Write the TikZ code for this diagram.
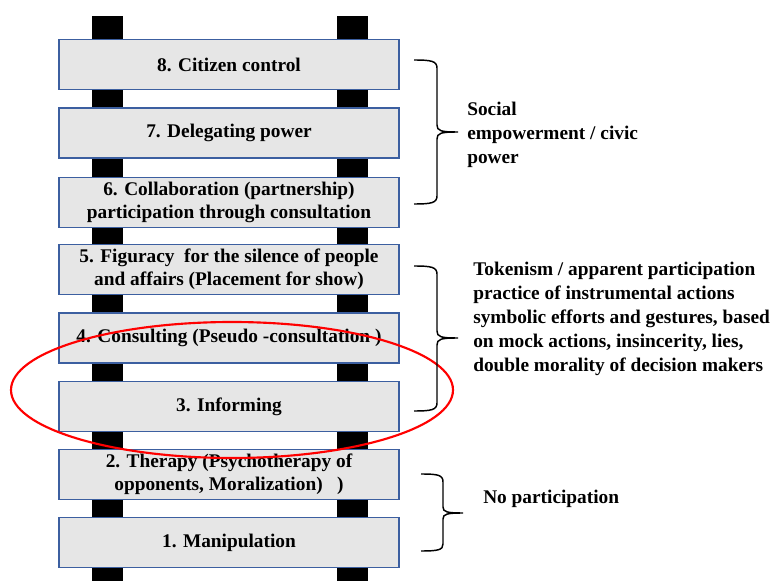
\documentclass[tikz,border=0pt]{standalone}
\usepackage{fontspec}
\setmainfont{Liberation Serif}[BoldFont={Liberation Serif Bold}]
\newfontfamily\ladderfont{Liberation Serif Bold}
\usepackage{xcolor}
\usepackage{tikz}

\definecolor{rungfill}{RGB}{230,230,230}
\definecolor{rungedge}{RGB}{60,95,160}

\begin{document}
\begin{tikzpicture}[x=0.75pt, y=-0.75pt,
    rail/.style={fill=black},
    rung/.style={rectangle, draw=rungedge, line width=1.1pt, fill=rungfill, minimum width=255pt, minimum height=37.5pt, align=center, inner sep=0pt, font=\ladderfont\fontsize{14.5}{17.5}\selectfont},
    bracket/.style={draw, line width=1.1pt},
    group/.style={anchor=west, align=left, inner sep=0pt, font=\ladderfont\fontsize{14.5}{18}\selectfont}]

    \useasboundingbox (0,0) rectangle (776,581);

    % ladder rails
    \path[rail] (92,16) rectangle (123,581);
    \path[rail] (337,16) rectangle (368,581);

    % rungs
    \node[rung] (R8) at (229,64.5) {8. Citizen control};
    \node[rung] (R7) at (229,133) {7. Delegating power};
    \node[rung] (R6) at (229,202.5) {6. Collaboration (partnership)\\participation through consultation};
    \node[rung] (R5) at (229,269.5) {5. Figuracy\ \ for the silence of people\\and affairs (Placement for show)};
    \node[rung] (R4) at (229,338) {4. Consulting (Pseudo -consultation )};
    \node[rung] (R3) at (229,406.5) {3. Informing};
    \node[rung] (R2) at (229,474.5) {2. Therapy (Psychotherapy of\\opponents, Moralization)\ \ \ )};
    \node[rung] (R1) at (229,542.5) {1. Manipulation};

    % highlight
    \draw[red, line width=1.6pt] (232,390) ellipse [x radius=221, y radius=68];

    % braces
    \draw[bracket] (414,60) .. controls (431,60) and (437,61) .. (437,68) -- (437,125)
        .. controls (437,131) and (441,132) .. (458,132)
        .. controls (441,132) and (437,133) .. (437,139) -- (437,196)
        .. controls (437,203) and (431,204) .. (414,204);
    \draw[bracket] (414,266) .. controls (431,266) and (437,267) .. (437,274) -- (437,331)
        .. controls (437,337) and (441,338) .. (458,338)
        .. controls (441,338) and (437,339) .. (437,345) -- (437,403)
        .. controls (437,410) and (431,411) .. (414,411);
    \draw[bracket] (421,474) .. controls (438,474) and (443,475) .. (443,482) -- (443,507)
        .. controls (443,512) and (447,513) .. (463,513)
        .. controls (447,513) and (443,514) .. (443,519) -- (443,544)
        .. controls (443,550) and (438,551) .. (421,551);

    % group labels
    \node[group] (G1) at (467,135) {Social\\empowerment / civic\\power};
    \node[group] (G2) at (473,318.5) {Tokenism / apparent participation\\practice of instrumental actions\\symbolic efforts and gestures, based\\on mock actions, insincerity, lies,\\double morality of decision makers};
    \node[group] (G3) at (483,498.5) {No participation};
\end{tikzpicture}
\end{document}
